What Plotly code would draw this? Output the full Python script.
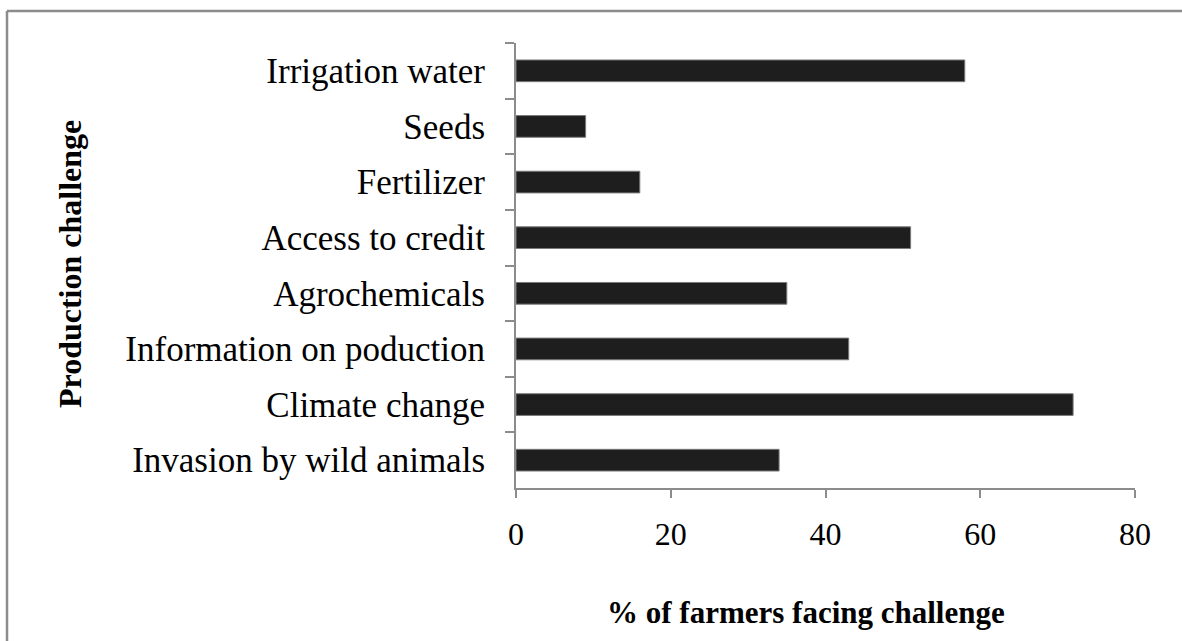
import plotly.graph_objects as go

# Production challenges reported by farmers (top to bottom as displayed)
challenges = [
    "Irrigation water",
    "Seeds",
    "Fertilizer",
    "Access to credit",
    "Agrochemicals",
    "Information on poduction",
    "Climate change",
    "Invasion by wild animals",
]
percent_farmers = [58, 9, 16, 51, 35, 43, 72, 34]

x_ticks = [0, 20, 40, 60, 80]

W, H = 1182, 641
L, R, T, B = 516, 47, 43, 153
pw, ph = W - L - R, H - T - B

serif = "Liberation Serif, Times New Roman, serif"
axis_grey = "#8c8c8c"

fig = go.Figure(
    go.Bar(
        x=percent_farmers,
        y=challenges,
        orientation="h",
        marker=dict(color="#1e1e1e", line=dict(color="#7a7a7a", width=1)),
        hoverinfo="x+y",
    )
)

fig.update_layout(
    width=W,
    height=H,
    margin=dict(l=L, r=R, t=T, b=B, pad=0),
    paper_bgcolor="white",
    plot_bgcolor="white",
    bargap=0.61,
    showlegend=False,
    font=dict(family=serif, color="black"),
)

fig.update_xaxes(
    range=[0, 80],
    tickvals=x_ticks,
    ticktext=[str(v) for v in x_ticks],
    showgrid=False,
    zeroline=False,
    showline=True,
    linecolor=axis_grey,
    linewidth=2,
    ticks="outside",
    ticklen=8,
    tickwidth=1.5,
    tickcolor=axis_grey,
    tickfont=dict(family=serif, size=32, color="black"),
    ticklabelstandoff=9,
)

fig.update_yaxes(
    autorange="reversed",
    tickson="boundaries",
    showgrid=False,
    zeroline=False,
    showline=True,
    linecolor=axis_grey,
    linewidth=2,
    ticks="outside",
    ticklen=9,
    tickwidth=1.5,
    tickcolor=axis_grey,
    tickfont=dict(family=serif, size=35, color="black"),
    ticklabelstandoff=22,
)

# axis titles
fig.add_annotation(
    text="<b>Production challenge</b>",
    xref="paper", yref="paper",
    x=(70 - L) / pw, y=(H - B - 264) / ph,
    textangle=-90, showarrow=False,
    font=dict(family=serif, size=32, color="black"),
    xanchor="center", yanchor="middle",
)
fig.add_annotation(
    text="<b>% of farmers facing challenge</b>",
    xref="paper", yref="paper",
    x=(806 - L) / pw, y=(H - B - 612) / ph,
    showarrow=False,
    font=dict(family=serif, size=31, color="black"),
    xanchor="center", yanchor="middle",
)

# chart-area frame: only the top and left edges fall inside the page
frame_left = (7 - L) / pw
frame_top = (H - B - 11) / ph
frame_right = (W - L) / pw
frame_bottom = (H - B - H) / ph
for x0, y0, x1, y1 in [
    (frame_left, frame_top, frame_right, frame_top),
    (frame_left, frame_top, frame_left, frame_bottom),
]:
    fig.add_shape(
        type="line",
        xref="paper", yref="paper",
        x0=x0, y0=y0, x1=x1, y1=y1,
        line=dict(color=axis_grey, width=2.5),
        layer="below",
    )

fig.write_html("out.html", config={"displayModeBar": False})
